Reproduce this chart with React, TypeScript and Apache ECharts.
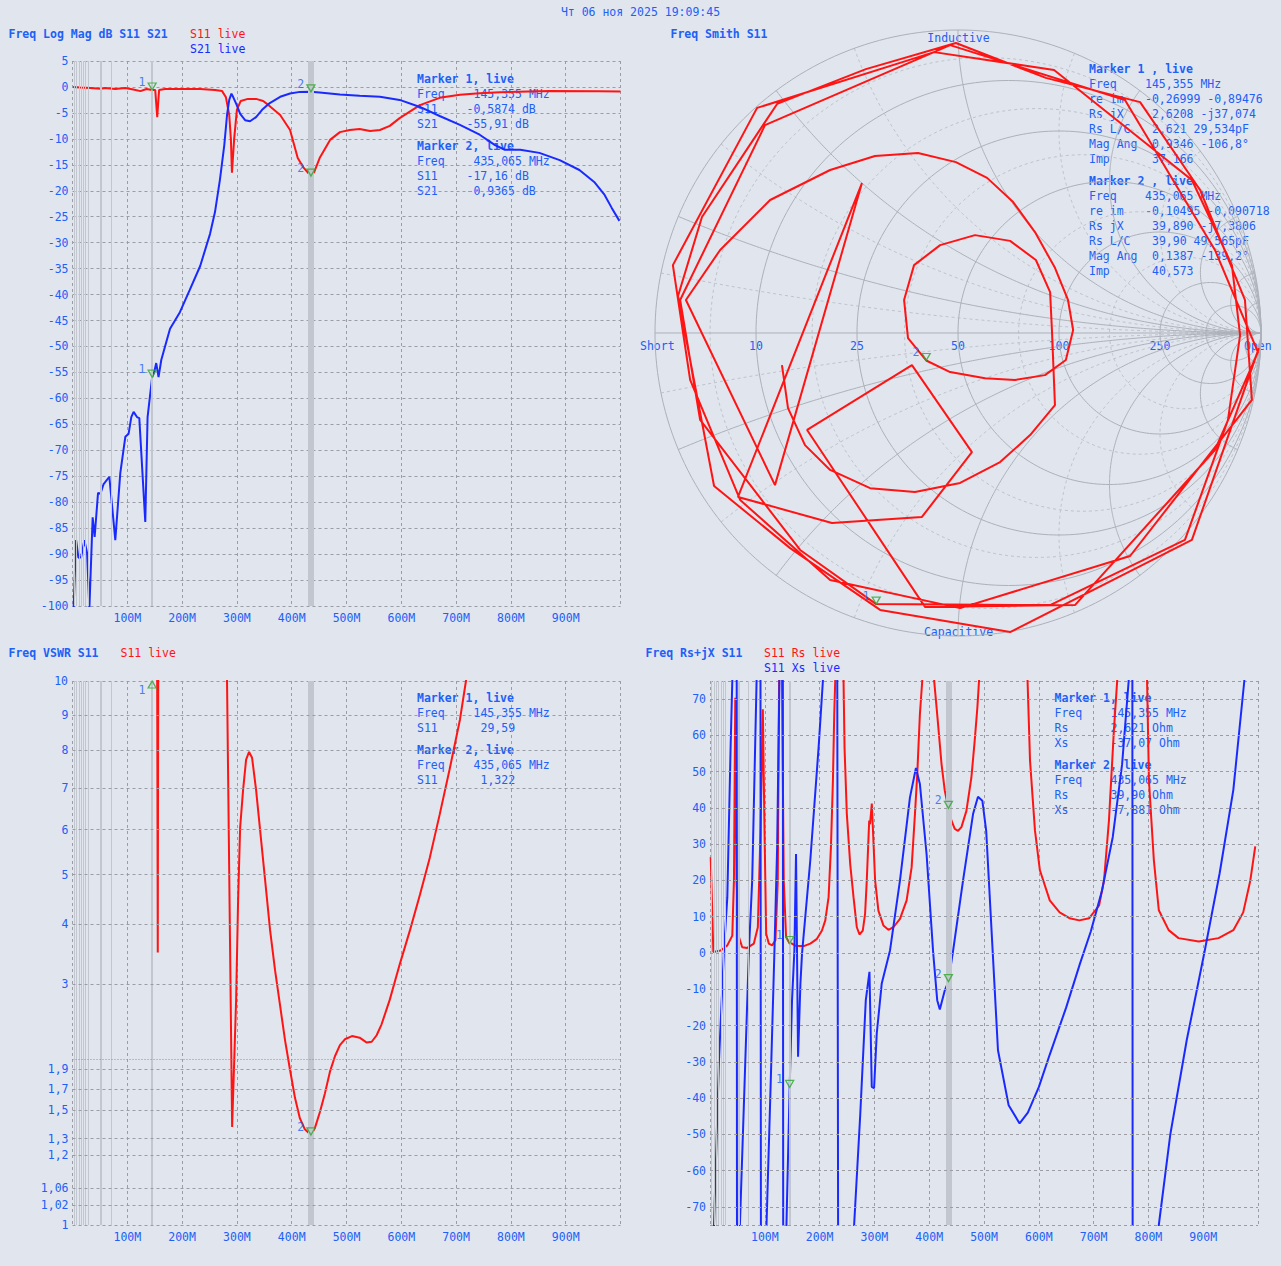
import React, { useEffect, useRef } from "react";
import * as echarts from "echarts";

// ---------------- measured traces ----------------
// [frequency MHz, S11 dB]
const s11Db: [number, number][] = [
  [1, 0], [14, -0.1], [33, -0.2], [51, -0.35], [60, -0.2], [78, -0.4], [96, -0.2], [111, -0.5],
  [124, -0.8], [135, -0.4], [145.355, -0.5874], [151, -0.6], [154.6, -5.8], [158, -0.6], [169, -0.4],
  [197, -0.4], [233, -0.4], [260, -0.6], [273, -0.8], [280, -2], [286, -5.4], [289, -10], [291, -16.5],
  [295, -10], [300, -4.4], [307, -2.7], [320, -2.3], [335, -2.3], [348, -2.7], [360, -3.7], [379, -5.4],
  [397, -8.3], [411, -13.7], [422, -15.6], [435.065, -17.16], [441, -16.4], [451, -13.7], [470, -10.2],
  [488, -8.7], [506, -8.3], [524, -8.1], [543, -8.5], [561, -8.3], [579, -7.5], [597, -6], [634, -3.5],
  [670, -2.1], [707, -1.5], [743, -1.2], [780, -1.0], [870, -0.8], [961, -0.85], [1000, -0.9],
];

// [frequency MHz, S21 dB]
const s21Db: [number, number][] = [
  [2, -100.5], [6.6, -87.3], [10.7, -90.7], [15.7, -90.6], [21.7, -87.3], [26.6, -89.8], [30.8, -100.5],
  [36.8, -82.9], [40.4, -86.7], [46.6, -78.2], [50.8, -78.4], [56.8, -76.5], [67.2, -75.1], [78.1, -87.3],
  [87.2, -74.4], [96.4, -67.4], [102.4, -66.8], [107.3, -63.6], [111.5, -62.6], [117.7, -63.6],
  [121.9, -63.8], [132.8, -83.8], [137, -63.6], [145.355, -55.91], [149.2, -54.9], [152.8, -53.2],
  [157, -55.9], [162, -52.6], [172.3, -48.7], [178, -46.6], [196, -43.4], [214, -39.1], [233, -34.5],
  [251, -28.3], [260, -24.1], [269, -17.9], [277, -11.2], [282, -5.4], [286, -2.5], [290, -1.3],
  [293, -1.9], [299, -3.3], [306, -5.2], [315, -6.4], [324, -6.6], [335, -5.8], [346, -4.4], [360, -3.1],
  [379, -1.9], [397, -1.25], [415, -0.95], [435.065, -0.9365], [451, -1.05], [488, -1.45], [524, -1.7],
  [561, -1.9], [597, -2.5], [634, -3.85], [670, -5.6], [707, -7.3], [743, -9.2], [771, -11.2],
  [789, -12.1], [817, -12.1], [852, -12.7], [889, -14.1], [925, -16], [952, -18.3], [971, -20.8],
  [984, -23.3], [998, -25.8],
];

// [frequency MHz, VSWR]
const s11Vswr: [number, number][] = [
  [1, 60], [150.5, 40], [154.3, 12], [155.6, 3.5], [156.6, 12], [160, 40], [278, 40], [279.5, 14],
  [291.3, 1.376], [298.6, 2.76], [302.2, 4.47], [305.9, 6.03], [311.3, 6.95], [316.8, 7.74], [322.2, 7.95],
  [327.7, 7.79], [335, 6.95], [342.3, 5.98], [351.4, 4.88], [360.5, 3.9], [369.6, 3.21], [378.7, 2.68],
  [387.8, 2.22], [397, 1.88], [406, 1.61], [415, 1.44], [424, 1.36], [435.065, 1.322], [442.4, 1.37],
  [451.5, 1.49], [460.6, 1.65], [469.7, 1.86], [478.9, 2.03], [488, 2.16], [497, 2.23], [510, 2.27],
  [524, 2.25], [537, 2.19], [546, 2.2], [555, 2.28], [564, 2.42], [579, 2.76], [597, 3.3], [616, 3.9],
  [634, 4.57], [652, 5.35], [670, 6.34], [688, 7.47], [707, 8.85], [718, 10], [730, 13], [1000, 40],
];

// [frequency MHz, Rs Ohm]
const s11Rs: [number, number][] = [
  [1.3, 26.4], [6.1, 0.3], [19.5, 0.7], [31.6, 2.1], [40.7, 4.8], [43.7, 20], [46.1, 70.4], [48.5, 20],
  [52.8, 4.4], [58.8, 1.6], [67.9, 1.4], [80, 2.6], [87.3, 7.1], [92.2, 33.7], [96.4, 67.2], [99.5, 33.7],
  [102.5, 5.3], [107.3, 2.6], [113.4, 2.1], [119.4, 3.5], [123.7, 20], [126.7, 90], [130.5, 90],
  [134.6, 20], [138.8, 4.4], [145.355, 2.621], [149.7, 2.6], [156, 2.0], [164.9, 1.9], [171, 1.9],
  [183, 2.6], [195.2, 3.9], [204.3, 6.2], [210.4, 9], [216.4, 15.4], [220.7, 29.2], [224.3, 47.5],
  [226.7, 65.8], [228.5, 75], [236, 150], [243.7, 75], [245.5, 56.7], [249.7, 38.3], [255.8, 24.6],
  [261.9, 15.4], [267.9, 7.1], [272.8, 5.1], [278.8, 6.2], [283, 10.8], [286.1, 20], [290.5, 36.5],
  [292, 35.5], [295.3, 41.2], [298.2, 31], [301.3, 20], [307.3, 11.7], [316.4, 7.6], [325.5, 6.4],
  [334.6, 7.1], [346.7, 9.4], [358.8, 14.5], [367.9, 23.6], [374, 38.3], [378.2, 49.3], [383, 65.8],
  [387.3, 75], [398, 150], [409.1, 75], [414.6, 65.8], [422.5, 52.1], [428.5, 44.7], [435.065, 39.9],
  [440.6, 36.5], [446.7, 34.2], [452.7, 33.7], [458.8, 34.7], [467.9, 39.2], [477, 48.4], [483, 58.5],
  [487.9, 67.7], [490.9, 75], [535, 150], [579.5, 75], [584, 53], [593, 33.8], [602, 22.8], [620, 14.5],
  [638, 11.2], [656, 9.6], [674, 9], [692, 9.6], [710, 13.1], [719, 20], [728, 36.5], [737, 61.3],
  [743, 75], [770, 150], [797.6, 75], [801, 47.5], [810, 25.5], [819, 11.8], [837, 6.3], [855, 4.1],
  [892, 3.2], [928, 4.1], [955, 6.3], [973, 11.2], [986, 20], [995, 29.4],
];

// [frequency MHz, Xs Ohm]
const s11Xs: [number, number][] = [
  [1, -400], [7.3, -75], [16.4, -29.5], [25.5, 0.7], [31.6, 15.4], [37.6, 56.7], [40.7, 75], [48, 300],
  [50, -300], [54.6, -75], [63.1, -36], [71, 0.7], [77, 20], [85, 75], [91, 300], [94, -300],
  [103.1, -75], [110.4, -37.8], [117.6, 0.7], [122.5, 29], [126.7, 75], [132, 300], [134.5, -300],
  [139.5, -75], [145.355, -37.07], [149.7, -13], [154, 0.7], [157, 27.3], [158.8, 0], [160.7, -28.6],
  [165, -8.4], [168, 0], [183, 25.5], [198.2, 56.7], [206, 75], [230, 300], [236, -300], [263, -75],
  [274, -45], [284.3, -13], [291, -5.2], [295.2, -36.9], [299.4, -37.3], [304.3, -22.2], [313.4, -8.4],
  [328.5, 0.7], [346.7, 20], [364.9, 42.9], [375.8, 51], [383, 46.6], [395.2, 27.3], [407.3, 0],
  [414.6, -13], [419.4, -15.6], [428.5, -10.3], [435.065, -7.881], [443.7, 0.7], [461.8, 20],
  [480, 38.3], [489, 43.1], [497, 42], [504, 33.7], [516, 0], [525.5, -26.8], [545, -42], [565, -47],
  [580, -44], [600, -37], [620, -28], [650, -15], [675, -3], [695, 6], [715, 17], [735, 32], [752, 52],
  [764, 75], [770, 300], [772, -300], [819, -75], [840, -50], [870, -24], [902, 0], [930, 22],
  [955, 45], [975, 75], [990, 150],
];

// reflection coefficient [re, im] along the sweep
const s11Smith: [number, number][] = [
  [0.993, -0.05], [0.772, -0.683], [0.172, -0.987], [-0.257, -0.914], [-0.554, -0.71], [-0.805, -0.505],
  [-0.924, 0.122], [-0.845, 0.383], [-0.597, 0.756], [-0.304, 0.871], [-0.007, 0.957], [0.29, 0.842],
  [0.601, 0.762], [0.799, 0.472], [0.947, 0.109],
  [0.97, -0.221], [0.568, -0.736], [0.007, -0.908], [-0.422, -0.815], [-0.719, -0.551], [-0.884, -0.155],
  [-0.941, 0.224], [-0.663, 0.743], [-0.079, 0.927], [0.317, 0.868], [0.772, 0.505], [0.904, 0.224],
  [0.931, -0.007],
  [0.891, -0.287], [0.749, -0.683], [0.304, -0.898], [-0.26999, -0.89476], [-0.521, -0.716],
  [-0.851, -0.287], [-0.917, 0.109], [-0.637, 0.686], [-0.026, 0.95], [0.551, 0.769], [0.848, 0.274],
  [0.99, -0.063],
  [0.848, -0.386], [0.386, -0.898], [-0.109, -0.904],
  [-0.498, -0.32], [-0.152, -0.106], [0.046, -0.393], [-0.119, -0.607], [-0.416, -0.627], [-0.726, -0.541],
  [-0.317, 0.495], [-0.604, -0.502],
  [-0.898, 0.109], [-0.785, 0.274], [-0.62, 0.439], [-0.422, 0.538], [-0.274, 0.584], [-0.132, 0.594],
  [-0.007, 0.564], [0.096, 0.512], [0.182, 0.432], [0.254, 0.333], [0.32, 0.215], [0.363, 0.109],
  [0.38, 0.01], [0.356, -0.089], [0.287, -0.139], [0.188, -0.155], [0.089, -0.149], [-0.026, -0.129],
  [-0.10495, -0.090718], [-0.165, -0.017], [-0.178, 0.109], [-0.145, 0.224], [-0.059, 0.29],
  [0.056, 0.323], [0.172, 0.304], [0.257, 0.241], [0.304, 0.135], [0.31, 0.01], [0.32, -0.238],
  [0.238, -0.337], [0.139, -0.426], [0.007, -0.495], [-0.142, -0.525], [-0.29, -0.512], [-0.422, -0.452],
  [-0.505, -0.37], [-0.561, -0.248], [-0.581, -0.106],
];

// marker readouts
const marker1 = { freq: 145.355, s11Db: -0.5874, s21Db: -55.91, vswr: 29.59, rs: 2.621, xs: -37.07, re: -0.26999, im: -0.89476 };
const marker2 = { freq: 435.065, s11Db: -17.16, s21Db: -0.9365, vswr: 1.322, rs: 39.9, xs: -7.881, re: -0.10495, im: -0.090718 };
const smithExtra1 = ["2,6208 -j37,074", "2,621 29,534pF", "0,9346 -106,8°", "37,166"];
const smithExtra2 = ["39,890 -j7,3806", "39,90 49,565pF", "0,1387 -139,2°", "40,573"];

// tick labels (the top value of each bespoke scale sits on the panel border)
const vswrTopTick = 10;
const vswrTicks = [9, 8, 7, 6, 5, 4, 3, 1.9, 1.7, 1.5, 1.3, 1.2, 1.06, 1.02, 1];
const rxTicks = [70, 60, 50, 40, 30, 20, 10, 0, -10, -20, -30, -40, -50, -60, -70];
const smithRLabels = [["10", 0.2], ["25", 0.5], ["50", 1], ["100", 2], ["250", 5]] as [string, number][];

// auxiliary frequency lines drawn in the rectangular panels
const auxFreqThin = [3, 7, 11.5, 15.5, 19.7, 24, 28, 70];
const auxFreqMid = [52];

// ---------------- styling ----------------
const BG = "#e0e5ee";
const TEXT_BLUE = "#2060f6";
const TRACE_BLUE = "#1a2aff";
const RED = "#ff1414";
const GREEN = "#2ea62e";
const GRID_DASH = "#9b9ca4";
const AUX_GRAY = "#c2c6ce";
const FONT = '"DejaVu Sans Mono", monospace';
const FS = 11.5;

const GRID_TL = { left: 72.5, top: 61, width: 548, height: 545 };
const GRID_BL = { left: 72.5, top: 681, width: 548, height: 544 };
const GRID_BR = { left: 710, top: 681, width: 548, height: 544 };
const GRID_SM = { left: 655, top: 30, width: 606, height: 606 };

const VSWR_EXP = 0.54;
const vswrPos = (v: number) => Math.pow(Math.max(v, 1) - 1, VSWR_EXP);
const VSWR_TOP = vswrPos(vswrTopTick);
const EDGE = 1e-4;

const fmt = (v: number, d: number) => v.toFixed(d).replace(".", ",");

function freqAxis(gridIndex: number) {
  return {
    gridIndex,
    type: "value",
    min: 0,
    max: 1000,
    interval: 100,
    axisLine: { show: false },
    axisTick: { show: false },
    axisLabel: {
      color: TEXT_BLUE,
      fontFamily: FONT,
      fontSize: FS,
      margin: 6,
      showMinLabel: true,
      showMaxLabel: true,
      formatter: (v: number) => (v > 0 && v < 1000 ? `${v}M` : ""),
    },
    splitLine: { show: true, lineStyle: { color: GRID_DASH, type: [3, 3], width: 1 } },
  };
}

function auxLines(i: number) {
  return {
    type: "line",
    xAxisIndex: i,
    yAxisIndex: i,
    data: [],
    silent: true,
    z: 1,
    markLine: {
      silent: true,
      symbol: "none",
      animation: false,
      label: { show: false },
      lineStyle: { color: AUX_GRAY, type: "solid", width: 1 },
      data: [
        ...auxFreqThin.map((f) => ({ xAxis: f, lineStyle: { color: AUX_GRAY, type: "solid", width: 1 } })),
        ...auxFreqMid.map((f) => ({ xAxis: f, lineStyle: { color: AUX_GRAY, type: "solid", width: 2 } })),
        { xAxis: marker1.freq, lineStyle: { color: AUX_GRAY, type: "solid", width: 2 } },
        { xAxis: marker2.freq, lineStyle: { color: AUX_GRAY, type: "solid", width: 6 } },
      ],
    },
  };
}

function yTickLines(i: number, lo: number, hi: number, items: { y: number; label: string; dots?: boolean }[]) {
  return {
    type: "line",
    xAxisIndex: i,
    yAxisIndex: i,
    data: [],
    silent: true,
    z: 1,
    markLine: {
      silent: true,
      symbol: "none",
      animation: false,
      data: items.map((it) => ({
        yAxis: Math.max(it.y, lo + EDGE),
        lineStyle: it.dots
          ? { color: "#8e8f96", type: [1, 2], width: 1 }
          : { color: GRID_DASH, type: [3, 3], width: 1 },
        label: {
          show: it.label !== "",
          position: "start",
          formatter: it.label,
          distance: 4,
          color: TEXT_BLUE,
          fontFamily: FONT,
          fontSize: FS,
        },
      })),
    },
  };
}

function trace(i: number, data: [number, number][], color: string, clip = true) {
  return {
    type: "line",
    xAxisIndex: i,
    yAxisIndex: i,
    data,
    showSymbol: false,
    symbol: "none",
    smooth: false,
    clip,
    silent: true,
    z: 3,
    lineStyle: { color, width: 2 },
  };
}

function markers(i: number, pts: { x: number; y: number; n: string; up?: boolean }[]) {
  return {
    type: "scatter",
    xAxisIndex: i,
    yAxisIndex: i,
    silent: true,
    z: 5,
    symbol: "triangle",
    symbolSize: [8, 7],
    itemStyle: { color: "rgba(0,0,0,0)", borderColor: GREEN, borderWidth: 1.3 },
    data: pts.map((p) => ({
      value: [p.x, p.y],
      symbolRotate: p.up ? 0 : 180,
      symbolOffset: p.up ? [0, 3.5] : [0, -3.5],
      label: {
        show: true,
        formatter: p.n,
        position: "left",
        distance: 2,
        offset: p.up ? [0, 5.5] : [0, -4.5],
        color: TEXT_BLUE,
        fontFamily: FONT,
        fontSize: FS,
      },
    })),
  };
}

// Smith chart geometry helpers
function gammaOf(r: number, x: number): [number, number] {
  const den = (r + 1) * (r + 1) + x * x;
  return [(r * r - 1 + x * x) / den, (2 * x) / den];
}
function resistanceCircle(r: number): [number, number][] {
  const cx = r / (1 + r);
  const rad = 1 / (1 + r);
  const pts: [number, number][] = [];
  for (let k = 0; k <= 240; k++) {
    const a = (k / 240) * Math.PI * 2;
    pts.push([cx + rad * Math.cos(a), rad * Math.sin(a)]);
  }
  return pts;
}
function reactanceArc(x: number): [number, number][] {
  const pts: [number, number][] = [];
  for (let k = 0; k <= 200; k++) {
    const phi = (k / 200) * (Math.PI / 2) * 0.9995;
    pts.push(gammaOf(Math.tan(phi), x));
  }
  pts.push([1, 0]);
  return pts;
}
function smithGridLine(pts: [number, number][], dashed: boolean) {
  return {
    type: "line",
    xAxisIndex: 3,
    yAxisIndex: 3,
    data: pts,
    showSymbol: false,
    symbol: "none",
    clip: false,
    silent: true,
    z: 1,
    lineStyle: dashed
      ? { color: "#bfc3cb", width: 1, type: [3, 3] }
      : { color: "#adb1b9", width: 1, type: "solid" },
  };
}

function txt(x: number, y: number, text: string, color = TEXT_BLUE, bold = false, align = "left") {
  return {
    type: "text",
    x,
    y,
    z: 0,
    silent: true,
    style: {
      text,
      fill: color,
      font: `${bold ? "bold " : ""}${FS}px ${FONT}`,
      textAlign: align,
      textVerticalAlign: "middle",
      verticalAlign: "middle",
    },
  };
}

// dashed top border of a panel whose vertical scale is drawn with mark lines
function topBorder(g: { left: number; top: number; width: number }) {
  return {
    type: "line",
    z: 0,
    silent: true,
    shape: { x1: g.left, y1: g.top + 0.5, x2: g.left + g.width, y2: g.top + 0.5 },
    style: { stroke: GRID_DASH, lineWidth: 1, lineDash: [3, 3] },
  };
}

function readout(x: number, rows: { y: number; label: string; bold?: boolean; value?: string; vx?: number }[]) {
  const out: any[] = [];
  rows.forEach((r) => {
    out.push(txt(x, r.y, r.label, TEXT_BLUE, !!r.bold));
    if (r.value !== undefined) out.push(txt(r.vx as number, r.y, r.value));
  });
  return out;
}

function buildOption() {
  const solidR = [0, 0.2, 0.5, 1, 2, 5, 10];
  const solidX = [0.2, 0.5, 1, 2, 5, 10, 20];
  const dashR = [0.1, 0.35, 0.7, 1.5, 3];
  const dashX = [0.1, 0.35, 0.7, 1.5, 3];
  const smithGrid: any[] = [];
  dashR.forEach((r) => smithGrid.push(smithGridLine(resistanceCircle(r), true)));
  dashX.forEach((x) => {
    smithGrid.push(smithGridLine(reactanceArc(x), true));
    smithGrid.push(smithGridLine(reactanceArc(-x), true));
  });
  solidR.forEach((r) => smithGrid.push(smithGridLine(resistanceCircle(r), false)));
  solidX.forEach((x) => {
    smithGrid.push(smithGridLine(reactanceArc(x), false));
    smithGrid.push(smithGridLine(reactanceArc(-x), false));
  });
  smithGrid.push(smithGridLine([[-1, 0], [1, 0]], false));

  const vswrTickItems = [
    ...vswrTicks.map((v) => ({ y: vswrPos(v), label: String(v).replace(".", ",") })),
    { y: vswrPos(2), label: "", dots: true },
  ];
  const rxTickItems = [
    ...rxTicks.map((v) => ({ y: v, label: String(v) })),
    { y: -75, label: "" },
  ];

  const texts: any[] = [
    topBorder(GRID_BL),
    topBorder(GRID_BR),
    txt(GRID_BL.left - 4.5, GRID_BL.top, String(vswrTopTick), TEXT_BLUE, false, "right"),
    txt(640.5, 11.5, "Чт 06 ноя 2025 19:09:45", TEXT_BLUE, false, "center"),
    txt(8.5, 34, "Freq Log Mag dB S11 S21", TEXT_BLUE, true),
    txt(190, 34, "S11 live", RED),
    txt(190, 49, "S21 live", TRACE_BLUE),
    txt(670.5, 34, "Freq Smith S11", TEXT_BLUE, true),
    txt(8.5, 653, "Freq VSWR S11", TEXT_BLUE, true),
    txt(120.5, 653, "S11 live", RED),
    txt(645.5, 653, "Freq Rs+jX S11", TEXT_BLUE, true),
    txt(764, 653, "S11 Rs live", RED),
    txt(764, 668, "S11 Xs live", TRACE_BLUE),
    // Smith chart annotations
    txt(958.5, 37.5, "Inductive", TEXT_BLUE, false, "center"),
    txt(958.5, 631.5, "Capacitive", TEXT_BLUE, false, "center"),
    txt(640, 346, "Short"),
    txt(1244, 346, "Open"),
    ...smithRLabels.map(([s, r]) =>
      txt(958 + ((r - 1) / (r + 1)) * 303, 346, s, TEXT_BLUE, false, "center")
    ),
    // log-mag readout
    ...readout(417, [
      { y: 79, label: "Marker 1, live", bold: true },
      { y: 94, label: "Freq", value: `${fmt(marker1.freq, 3)} MHz`, vx: 473.5 },
      { y: 109, label: "S11", value: `${fmt(marker1.s11Db, 4)} dB`, vx: 466.5 },
      { y: 124, label: "S21", value: `${fmt(marker1.s21Db, 2)} dB`, vx: 466.5 },
      { y: 146, label: "Marker 2, live", bold: true },
      { y: 161, label: "Freq", value: `${fmt(marker2.freq, 3)} MHz`, vx: 473.5 },
      { y: 176, label: "S11", value: `${fmt(marker2.s11Db, 2)} dB`, vx: 466.5 },
      { y: 191, label: "S21", value: `${fmt(marker2.s21Db, 4)} dB`, vx: 466.5 },
    ]),
    // smith readout
    ...readout(1089, [
      { y: 69, label: "Marker 1 , live", bold: true },
      { y: 84, label: "Freq", value: `${fmt(marker1.freq, 3)} MHz`, vx: 1145 },
      { y: 99, label: "re im", value: `${fmt(marker1.re, 5)} ${fmt(marker1.im, 5)}`, vx: 1145 },
      { y: 114, label: "Rs jX", value: smithExtra1[0], vx: 1152 },
      { y: 129, label: "Rs L/C", value: smithExtra1[1], vx: 1152 },
      { y: 144, label: "Mag Ang", value: smithExtra1[2], vx: 1152 },
      { y: 159, label: "Imp", value: smithExtra1[3], vx: 1152 },
      { y: 181, label: "Marker 2 , live", bold: true },
      { y: 196, label: "Freq", value: `${fmt(marker2.freq, 3)} MHz`, vx: 1145 },
      { y: 211, label: "re im", value: `${fmt(marker2.re, 5)} ${fmt(marker2.im, 6)}`, vx: 1145 },
      { y: 226, label: "Rs jX", value: smithExtra2[0], vx: 1152 },
      { y: 241, label: "Rs L/C", value: smithExtra2[1], vx: 1152 },
      { y: 256, label: "Mag Ang", value: smithExtra2[2], vx: 1152 },
      { y: 271, label: "Imp", value: smithExtra2[3], vx: 1152 },
    ]),
    // VSWR readout
    ...readout(417, [
      { y: 698, label: "Marker 1, live", bold: true },
      { y: 713, label: "Freq", value: `${fmt(marker1.freq, 3)} MHz`, vx: 473.5 },
      { y: 728, label: "S11", value: fmt(marker1.vswr, 2), vx: 480.5 },
      { y: 750, label: "Marker 2, live", bold: true },
      { y: 765, label: "Freq", value: `${fmt(marker2.freq, 3)} MHz`, vx: 473.5 },
      { y: 780, label: "S11", value: fmt(marker2.vswr, 3), vx: 480.5 },
    ]),
    // Rs+jX readout
    ...readout(1054.5, [
      { y: 698, label: "Marker 1, live", bold: true },
      { y: 713, label: "Freq", value: `${fmt(marker1.freq, 3)} MHz`, vx: 1110.5 },
      { y: 728, label: "Rs", value: `${fmt(marker1.rs, 3)} Ohm`, vx: 1110.5 },
      { y: 743, label: "Xs", value: `${fmt(marker1.xs, 2)} Ohm`, vx: 1110.5 },
      { y: 765, label: "Marker 2, live", bold: true },
      { y: 780, label: "Freq", value: `${fmt(marker2.freq, 3)} MHz`, vx: 1110.5 },
      { y: 795, label: "Rs", value: `${fmt(marker2.rs, 2)} Ohm`, vx: 1110.5 },
      { y: 810, label: "Xs", value: `${fmt(marker2.xs, 3)} Ohm`, vx: 1110.5 },
    ]),
  ];

  return {
    animation: false,
    backgroundColor: BG,
    grid: [GRID_TL, GRID_BL, GRID_BR, GRID_SM].map((g) => ({ ...g, containLabel: false, show: false })),
    xAxis: [
      freqAxis(0),
      freqAxis(1),
      freqAxis(2),
      { gridIndex: 3, type: "value", min: -1, max: 1, show: false },
    ],
    yAxis: [
      {
        gridIndex: 0,
        type: "value",
        min: -100,
        max: 5,
        interval: 5,
        axisLine: { show: false },
        axisTick: { show: false },
        axisLabel: { color: TEXT_BLUE, fontFamily: FONT, fontSize: FS, margin: 4, showMinLabel: true, showMaxLabel: true },
        splitLine: { show: true, lineStyle: { color: GRID_DASH, type: [3, 3], width: 1 } },
      },
      { gridIndex: 1, type: "value", min: 0, max: VSWR_TOP, show: false },
      { gridIndex: 2, type: "value", min: -75, max: 75, show: false },
      { gridIndex: 3, type: "value", min: -1, max: 1, show: false },
    ],
    series: [
      auxLines(0),
      auxLines(1),
      auxLines(2),
      yTickLines(1, 0, VSWR_TOP, vswrTickItems),
      yTickLines(2, -75, 75, rxTickItems),
      ...smithGrid,
      trace(0, s11Db, RED),
      trace(0, s21Db, TRACE_BLUE),
      trace(1, s11Vswr.map(([f, v]) => [f, vswrPos(v)] as [number, number]), RED),
      trace(2, s11Rs, RED),
      trace(2, s11Xs, TRACE_BLUE),
      trace(3, s11Smith, RED, false),
      markers(0, [
        { x: marker1.freq, y: marker1.s11Db, n: "1" },
        { x: marker1.freq, y: marker1.s21Db, n: "1" },
        { x: marker2.freq, y: marker2.s11Db, n: "2" },
        { x: marker2.freq, y: marker2.s21Db, n: "2" },
      ]),
      markers(1, [
        { x: marker1.freq, y: Math.min(vswrPos(marker1.vswr), VSWR_TOP), n: "1", up: vswrPos(marker1.vswr) > VSWR_TOP },
        { x: marker2.freq, y: Math.min(vswrPos(marker2.vswr), VSWR_TOP), n: "2", up: vswrPos(marker2.vswr) > VSWR_TOP },
      ]),
      markers(2, [
        { x: marker1.freq, y: marker1.rs, n: "1" },
        { x: marker1.freq, y: marker1.xs, n: "1" },
        { x: marker2.freq, y: marker2.rs, n: "2" },
        { x: marker2.freq, y: marker2.xs, n: "2" },
      ]),
      markers(3, [
        { x: marker1.re, y: marker1.im, n: "1" },
        { x: marker2.re, y: marker2.im, n: "2" },
      ]),
    ],
    graphic: { elements: texts },
  };
}

export default function App() {
  const ref = useRef<HTMLDivElement>(null);
  useEffect(() => {
    if (!ref.current) return;
    const chart = echarts.init(ref.current, null, { renderer: "svg", width: 1281, height: 1266 });
    chart.setOption(buildOption() as any);
    return () => chart.dispose();
  }, []);
  return (
    <div
      ref={ref}
      style={{ position: "absolute", left: 0, top: 0, width: 1281, height: 1266, background: BG }}
    />
  );
}
